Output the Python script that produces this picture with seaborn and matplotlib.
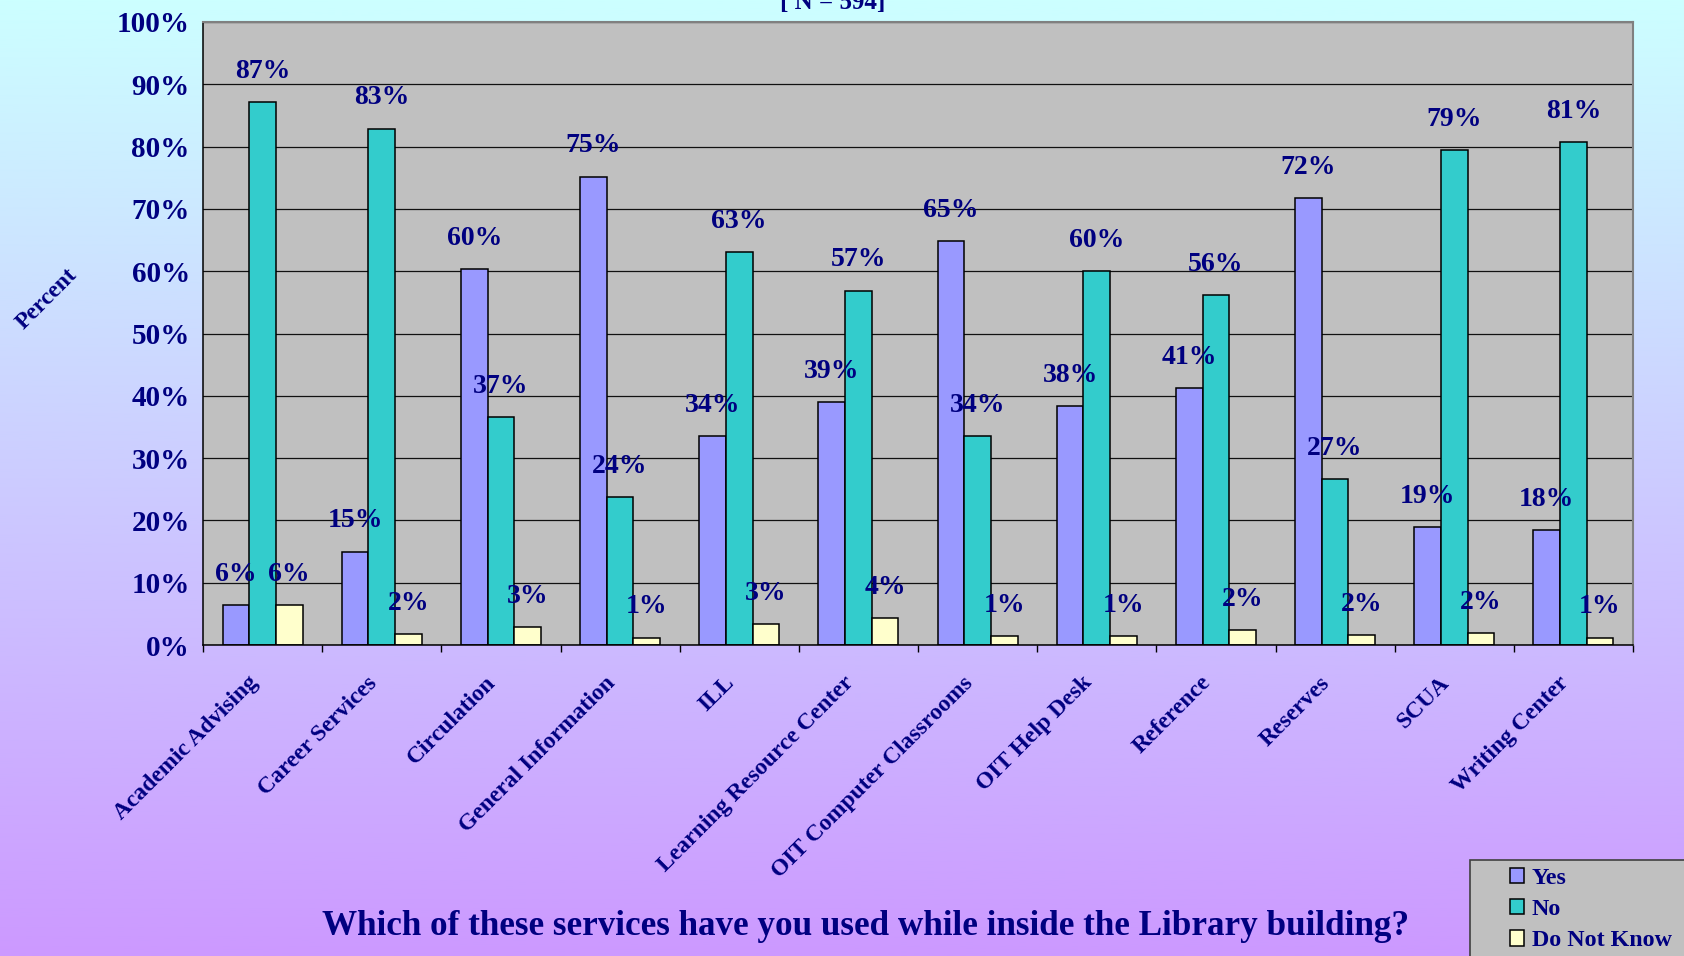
import numpy as np
import pandas as pd
import matplotlib
matplotlib.use("Agg")
import matplotlib.pyplot as plt
from matplotlib.patches import Patch, Rectangle
from matplotlib.transforms import ScaledTranslation
import seaborn as sns

# Survey results (percent of respondents)
services = [
    "Academic Advising", "Career Services", "Circulation", "General Information",
    "ILL", "Learning Resource Center", "OIT Computer Classrooms", "OIT Help Desk",
    "Reference", "Reserves", "SCUA", "Writing Center",
]
yes_pct = [6.4, 15.0, 60.3, 75.2, 33.6, 39.0, 64.8, 38.3, 41.2, 71.7, 19.0, 18.4]
no_pct = [87.2, 82.9, 36.6, 23.8, 63.1, 56.9, 33.6, 60.0, 56.2, 26.7, 79.4, 80.7]
dnk_pct = [6.4, 1.7, 2.9, 1.2, 3.3, 4.3, 1.4, 1.4, 2.4, 1.6, 1.9, 1.2]
responses = ["Yes", "No", "Do Not Know"]
y_ticks = list(range(0, 101, 10))

navy = "#000080"
palette = {"Yes": "#9999FF", "No": "#33CCCC", "Do Not Know": "#FFFFCC"}

df = pd.DataFrame({
    "Service": services * 3,
    "Response": ["Yes"] * len(services) + ["No"] * len(services) + ["Do Not Know"] * len(services),
    "Percent": yes_pct + no_pct + dnk_pct,
})

sns.set_style("white")
plt.rcParams["font.family"] = ["Liberation Serif", "DejaVu Serif"]
plt.rcParams["font.weight"] = "bold"

W, H, DPI = 1684, 956, 100
fig = plt.figure(figsize=(W / DPI, H / DPI), dpi=DPI)

# vertical background gradient (light cyan to lavender)
bg = fig.add_axes([0, 0, 1, 1], zorder=-5)
top_c = np.array([204, 255, 255]) / 255
bot_c = np.array([204, 153, 255]) / 255
t = np.linspace(0, 1, 512)[:, None, None]
grad = top_c[None, None, :] * (1 - t) + bot_c[None, None, :] * t
bg.imshow(grad, aspect="auto", extent=[0, 1, 0, 1], origin="upper")
bg.set_axis_off()

# plot area in pixel coordinates
left, right, top, bottom = 203, 1633, 22, 645
ax = fig.add_axes([left / W, 1 - bottom / H, (right - left) / W, (bottom - top) / H], zorder=1)
ax.set_facecolor("#C0C0C0")

sns.barplot(
    data=df, x="Service", y="Percent", hue="Response", hue_order=responses,
    palette=palette, saturation=1, width=0.67, edgecolor="black", linewidth=1.1,
    errorbar=None, legend=False, ax=ax,
)

for cont in ax.containers:
    ax.bar_label(cont, fmt="{:.0f}%", padding=13, color=navy,
                 fontsize=20, fontweight="bold")

ax.set_ylim(0, 100)
ax.set_xlim(-0.5, len(services) - 0.5)
ax.set_yticks(y_ticks)
ax.set_yticklabels([f"{v}%" for v in y_ticks])
ax.yaxis.grid(True, color="#111111", linewidth=0.9)
ax.set_axisbelow(True)

ax.set_xticks(np.arange(len(services)))
ax.set_xticklabels(services, rotation=45, ha="right", va="center",
                   rotation_mode="anchor")
ax.set_xticks(np.arange(-0.5, len(services), 1), minor=True)
ax.tick_params(axis="x", which="major", length=0, pad=25, labelsize=17,
               labelcolor=navy)
ax.tick_params(axis="x", which="minor", length=5, width=1, color="black",
               direction="out", bottom=True)
ax.tick_params(axis="y", length=6.5, width=1, color="black", direction="out",
               pad=3, labelsize=21, labelcolor=navy)
shift = ScaledTranslation(-8 / DPI, 0, fig.dpi_scale_trans)
for lab in ax.get_xticklabels():
    lab.set_fontweight("bold")
    lab.set_transform(lab.get_transform() + shift)
for lab in ax.get_yticklabels():
    lab.set_fontweight("bold")

ax.set_xlabel("")
ax.set_ylabel("")
for s in ("left", "bottom"):
    ax.spines[s].set_color("black")
    ax.spines[s].set_linewidth(1.1)
for s in ("top", "right"):
    ax.spines[s].set_color("#808080")
    ax.spines[s].set_linewidth(1.5)

fig.text(47 / W, 1 - 299 / H, "Percent", rotation=45, rotation_mode="anchor",
         ha="center", va="center", fontsize=17, fontweight="bold", color=navy)
fig.text(833 / W, 1 - 9 / H, "[ N = 594]", ha="center", va="baseline",
         fontsize=18, fontweight="bold", color=navy)
fig.text(866 / W, 1 - 935 / H,
         "Which of these services have you used while inside the Library building?",
         ha="center", va="baseline", fontsize=25.3, fontweight="bold", color=navy)

# legend box running off the lower-right corner
fig.add_artist(Rectangle((1470 / W, -0.05), (W + 20 - 1470) / W, 0.05 + 1 - 860 / H,
                         transform=fig.transFigure, facecolor="#C0C0C0",
                         edgecolor="#404040", linewidth=1.2, zorder=3))
handles = [Patch(facecolor=palette[r], edgecolor="black", linewidth=1.1) for r in responses]
leg = fig.legend(handles, responses, loc="upper left",
                 bbox_to_anchor=(1510 / W, 1 - 868 / H), frameon=False,
                 handlelength=0.6, handleheight=0.6,
                 handletextpad=0.3, labelspacing=0.42, borderpad=0,
                 borderaxespad=0, prop={"weight": "bold", "size": 17.3})
leg.set_zorder(4)
for txt in leg.get_texts():
    txt.set_color(navy)

fig.savefig("out.png", dpi=DPI)
